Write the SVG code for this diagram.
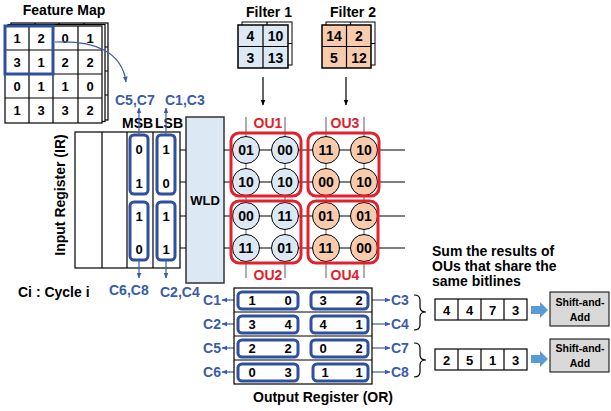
<svg xmlns="http://www.w3.org/2000/svg" width="611" height="411" viewBox="0 0 611 411">
<defs>
<style>
text{font-family:"Liberation Sans",Arial,sans-serif;font-weight:bold;}
.t14{font-size:14px;fill:#000;}
.c{text-anchor:middle;}
.blue{fill:#3A5CA8;font-size:14px;}
.red{fill:#E3202B;font-size:14px;text-anchor:middle;}
.cell{fill:#fff;stroke:#000;stroke-width:1.2;}
.ln{stroke:#000;stroke-width:1.2;fill:none;}
.bl{stroke:#3A5CA8;stroke-width:1.2;fill:none;}
.bbox{fill:none;stroke:#2F4F9F;stroke-width:3;}
.rbox{fill:none;stroke:#E3202B;stroke-width:3;}
.cb{fill:#DCE8F4;stroke:#000;stroke-width:1;}
.co{fill:#F8CBAD;stroke:#000;stroke-width:1;}
.gl{stroke:#777;stroke-width:1.2;}
.d{font-size:13px;text-anchor:middle;fill:#000;}
</style>
<marker id="ab" viewBox="0 0 10 10" refX="9" refY="5" markerWidth="5" markerHeight="5" orient="auto"><path d="M0,1 L10,5 L0,9 z" fill="#3A5CA8"/></marker>
<marker id="ak" viewBox="0 0 10 10" refX="9" refY="5" markerWidth="5" markerHeight="5" orient="auto"><path d="M0,1 L10,5 L0,9 z" fill="#000"/></marker>
</defs>
<rect width="611" height="411" fill="#fff"/>

<g id="feature-map">
<text class="t14 c" x="64" y="15">Feature Map</text>
<g transform="translate(6,-3)">
<rect class="cell" x="5" y="26" width="97" height="97"/>
<path class="ln" d="M29,26V123M53,26V123M78,26V123M5,50H102M5,74H102M5,98H102"/>
</g>
<g transform="translate(3,-1.5)">
<rect class="cell" x="5" y="26" width="97" height="97"/>
</g>
<rect class="cell" x="5" y="26" width="97" height="97"/>
<path class="ln" d="M29,26V123M53,26V123M78,26V123M5,50H102M5,74H102M5,98H102"/>
<g class="d">
<text x="17" y="43">1</text><text x="41" y="43">2</text><text x="65" y="43">0</text><text x="90" y="43">1</text>
<text x="17" y="67">3</text><text x="41" y="67">1</text><text x="65" y="67">2</text><text x="90" y="67">2</text>
<text x="17" y="91">0</text><text x="41" y="91">1</text><text x="65" y="91">1</text><text x="90" y="91">0</text>
<text x="17" y="115">1</text><text x="41" y="115">3</text><text x="65" y="115">3</text><text x="90" y="115">2</text>
</g>
<rect x="5" y="26" width="48" height="48" fill="none" stroke="#2F4F9F" stroke-width="3"/>
</g>

<g id="filter1">
<text class="t14 c" x="269" y="17">Filter 1</text>
<rect x="242" y="22" width="50" height="43" fill="#fff" stroke="#000" stroke-width="1"/>
<path class="ln" d="M267,22V65M242,43.5H292"/>
<rect x="238" y="25" width="50" height="43" fill="#DCE8F4" stroke="#000" stroke-width="1.5"/>
<path class="ln" d="M263,25V68M238,46.5H288"/>
<g class="d" style="font-size:14px">
<text x="250.5" y="41">4</text><text x="275.5" y="41">10</text>
<text x="250.5" y="63">3</text><text x="275.5" y="63">13</text>
</g>
</g>

<g id="filter2">
<text class="t14 c" x="353" y="17">Filter 2</text>
<rect x="326" y="22" width="49" height="43" fill="#fff" stroke="#000" stroke-width="1"/>
<path class="ln" d="M350.5,22V65M326,43.5H375"/>
<rect x="322" y="25" width="49" height="43" fill="#F8CBAD" stroke="#000" stroke-width="1.5"/>
<path class="ln" d="M346.5,25V68M322,46.5H371"/>
<g class="d" style="font-size:14px">
<text x="334" y="41">14</text><text x="359" y="41">2</text>
<text x="334" y="63">5</text><text x="359" y="63">12</text>
</g>
</g>

<g id="input-register">
<text class="t14 c" transform="translate(65,195) rotate(-90)">Input Register (IR)</text>
<rect class="cell" x="75" y="132" width="105" height="136"/>
<path class="ln" d="M102,132V268M127,132V268M153,132V268"/>
<text class="t14" x="122" y="128">MSB</text>
<text class="t14" x="155" y="128">LSB</text>
<g class="d">
<text x="139" y="154">0</text><text x="139" y="188">1</text><text x="139" y="221">1</text><text x="139" y="254">0</text>
<text x="166" y="154">1</text><text x="166" y="188">0</text><text x="166" y="221">1</text><text x="166" y="254">1</text>
</g>
<rect class="bbox" x="130" y="135" width="18" height="59" rx="4"/>
<rect class="bbox" x="130" y="202" width="18" height="58" rx="4"/>
<rect class="bbox" x="157" y="135" width="18" height="59" rx="4"/>
<rect class="bbox" x="157" y="202" width="18" height="58" rx="4"/>
<text class="blue" x="115" y="105">C5,C7</text>
<text class="blue" x="165" y="105">C1,C3</text>
<text class="blue" x="109" y="295">C6,C8</text>
<text class="blue" x="160" y="297">C2,C4</text>
</g>

<g id="cycle-label">
<text class="t14" x="18" y="297">Ci : Cycle i</text>
</g>

<g id="wld">
<rect x="186" y="117" width="38" height="166" fill="#DCE8F4" stroke="#333" stroke-width="1.5"/>
<text x="205" y="205" style="font-size:13px;text-anchor:middle">WLD</text>
</g>

<g id="connectors">
<path class="bl" d="M55,42 C95,40 122,52 126,82" marker-end="url(#ab)"/>
<path class="bl" d="M139,135V108" marker-end="url(#ab)"/>
<path class="bl" d="M166,135V108" marker-end="url(#ab)"/>
<path class="bl" d="M139,260V278" marker-end="url(#ab)"/>
<path class="bl" d="M166,260V278" marker-end="url(#ab)"/>
<path class="ln" d="M263,77V105" marker-end="url(#ak)"/>
<path class="ln" d="M346,77V105" marker-end="url(#ak)"/>
<path class="ln" d="M180,150H186M180,182H186M180,216H186M180,248H186"/>
<path class="ln" d="M224,150H405M224,182H405M224,216H405M224,248H405"/>
<path class="gl" d="M246,117V278M285,117V278M326,117V278M364,117V278"/>
<path class="bl" d="M238,300H222" marker-end="url(#ab)"/>
<path class="bl" d="M238,324H222" marker-end="url(#ab)"/>
<path class="bl" d="M238,348H222" marker-end="url(#ab)"/>
<path class="bl" d="M238,372H222" marker-end="url(#ab)"/>
<path class="bl" d="M368,300H390" marker-end="url(#ab)"/>
<path class="bl" d="M368,324H390" marker-end="url(#ab)"/>
<path class="bl" d="M368,348H390" marker-end="url(#ab)"/>
<path class="bl" d="M368,372H390" marker-end="url(#ab)"/>
<path class="ln" d="M414,295Q420,295 420,300V307Q420,312 426,312Q420,312 420,317V325Q420,330 414,330"/>
<path class="ln" d="M414,343Q420,343 420,348V355Q420,360 426,360Q420,360 420,365V372Q420,377 414,377"/>
</g>

<g id="crossbar">
<g class="c t14" style="font-size:14px">
<circle class="cb" cx="246" cy="150" r="13.5"/><circle class="cb" cx="285" cy="150" r="13.5"/>
<circle class="cb" cx="246" cy="182" r="13.5"/><circle class="cb" cx="285" cy="182" r="13.5"/>
<circle class="cb" cx="246" cy="216" r="13.5"/><circle class="cb" cx="285" cy="216" r="13.5"/>
<circle class="cb" cx="246" cy="248" r="13.5"/><circle class="cb" cx="285" cy="248" r="13.5"/>
<circle class="co" cx="326" cy="150" r="13.5"/><circle class="co" cx="364" cy="150" r="13.5"/>
<circle class="co" cx="326" cy="182" r="13.5"/><circle class="co" cx="364" cy="182" r="13.5"/>
<circle class="co" cx="326" cy="216" r="13.5"/><circle class="co" cx="364" cy="216" r="13.5"/>
<circle class="co" cx="326" cy="248" r="13.5"/><circle class="co" cx="364" cy="248" r="13.5"/>
<text x="246" y="155">01</text><text x="285" y="155">00</text>
<text x="246" y="187">10</text><text x="285" y="187">10</text>
<text x="246" y="221">00</text><text x="285" y="221">11</text>
<text x="246" y="253">11</text><text x="285" y="253">01</text>
<text x="326" y="155">11</text><text x="364" y="155">10</text>
<text x="326" y="187">00</text><text x="364" y="187">10</text>
<text x="326" y="221">01</text><text x="364" y="221">01</text>
<text x="326" y="253">11</text><text x="364" y="253">00</text>
</g>
</g>

<g id="ou1"><rect class="rbox" x="231" y="133" width="70" height="63" rx="8"/><text class="red" x="268" y="128">OU1</text></g>
<g id="ou2"><rect class="rbox" x="231" y="201" width="70" height="62" rx="8"/><text class="red" x="268" y="280">OU2</text></g>
<g id="ou3"><rect class="rbox" x="308" y="133" width="71" height="63" rx="8"/><text class="red" x="345" y="128">OU3</text></g>
<g id="ou4"><rect class="rbox" x="308" y="201" width="70" height="62" rx="8"/><text class="red" x="345" y="280">OU4</text></g>

<g id="output-register">
<rect class="cell" x="234" y="288" width="138" height="96"/>
<path class="ln" d="M234,312H372M234,336H372M234,360H372"/>
<rect class="bbox" x="238" y="292" width="60" height="17" rx="4"/>
<rect class="bbox" x="311" y="292" width="57" height="17" rx="4"/>
<rect class="bbox" x="238" y="316" width="60" height="17" rx="4"/>
<rect class="bbox" x="311" y="316" width="57" height="17" rx="4"/>
<rect class="bbox" x="238" y="340" width="60" height="17" rx="4"/>
<rect class="bbox" x="311" y="340" width="57" height="17" rx="4"/>
<rect class="bbox" x="238" y="364" width="60" height="17" rx="4"/>
<rect class="bbox" x="313" y="364" width="55" height="17" rx="4"/>
<g class="d">
<text x="252" y="305">1</text><text x="288" y="305">0</text><text x="323" y="305">3</text><text x="359" y="305">2</text>
<text x="252" y="329">3</text><text x="288" y="329">4</text><text x="323" y="329">4</text><text x="359" y="329">1</text>
<text x="252" y="353">2</text><text x="288" y="353">2</text><text x="323" y="353">0</text><text x="359" y="353">2</text>
<text x="252" y="377">0</text><text x="288" y="377">3</text><text x="325" y="377">1</text><text x="359" y="377">1</text>
</g>
<g class="blue" style="text-anchor:end">
<text x="221" y="305">C1</text><text x="221" y="329">C2</text><text x="221" y="353">C5</text><text x="221" y="377">C6</text>
</g>
<g class="blue">
<text x="391" y="305">C3</text><text x="391" y="329">C4</text><text x="391" y="353">C7</text><text x="391" y="377">C8</text>
</g>
<text class="t14 c" x="323" y="402">Output Register (OR)</text>
</g>

<g id="sum-note">
<text class="t14" x="432" y="256">Sum the results of</text>
<text class="t14" x="432" y="271">OUs that share the</text>
<text class="t14" x="432" y="286">same bitlines</text>
</g>

<g id="sum1">
<rect class="cell" x="435" y="299" width="92" height="21"/>
<path class="ln" d="M458,299V320M481,299V320M504,299V320"/>
<g class="d"><text x="446.5" y="315">4</text><text x="469.5" y="315">4</text><text x="492.5" y="315">7</text><text x="515.5" y="315">3</text></g>
<path d="M531,306H540V302L548,310L540,318V314H531Z" fill="#5B9BD5"/>
</g>
<g id="shift1">
<rect x="550" y="292" width="59" height="34" fill="#D9D9D9" stroke="#000" stroke-width="1"/>
<text x="580" y="306" style="font-size:10.5px;text-anchor:middle">Shift-and-</text>
<text x="580" y="321" style="font-size:10.5px;text-anchor:middle">Add</text>
</g>
<g id="sum2">
<rect class="cell" x="435" y="349" width="92" height="21"/>
<path class="ln" d="M458,349V370M481,349V370M504,349V370"/>
<g class="d"><text x="446.5" y="365">2</text><text x="469.5" y="365">5</text><text x="492.5" y="365">1</text><text x="515.5" y="365">3</text></g>
<path d="M531,355H540V351L548,359L540,367V363H531Z" fill="#5B9BD5"/>
</g>
<g id="shift2">
<rect x="550" y="339" width="59" height="33" fill="#D9D9D9" stroke="#000" stroke-width="1"/>
<text x="580" y="352" style="font-size:10.5px;text-anchor:middle">Shift-and-</text>
<text x="580" y="367" style="font-size:10.5px;text-anchor:middle">Add</text>
</g>
</svg>
